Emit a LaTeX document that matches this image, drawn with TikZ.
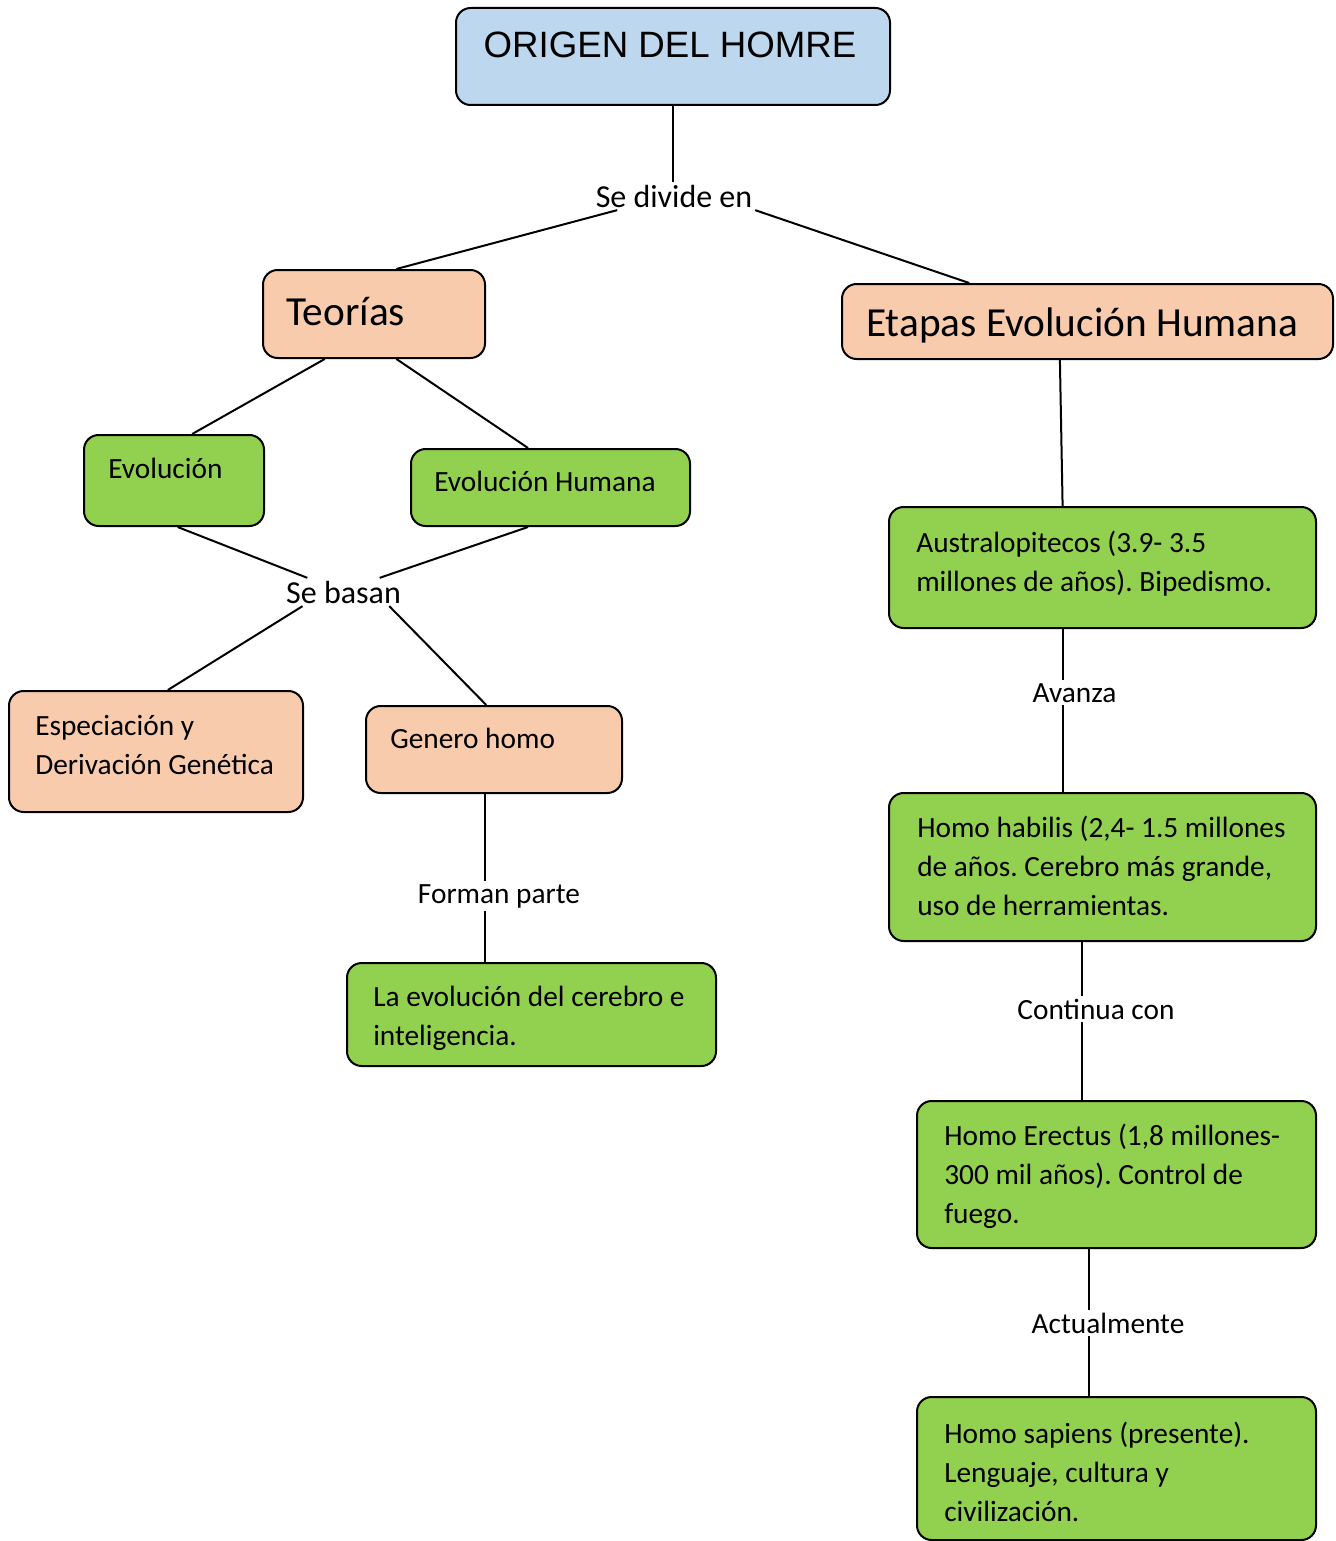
\documentclass[tikz,border=0pt]{standalone}
\usepackage{fontspec}
\setmainfont{Carlito}
\newfontfamily\arialfont{Liberation Sans}
\usetikzlibrary{fit,calc}
\frenchspacing
\definecolor{lightblue}{HTML}{BDD7EE}
\definecolor{peach}{HTML}{F8CBAD}
\definecolor{leafgreen}{HTML}{92D050}
\tikzset{
  box/.style={draw=black, line width=1.5pt, rounded corners=11pt, inner sep=0pt},
  bluebox/.style={box, fill=lightblue},
  peachbox/.style={box, fill=peach},
  greenbox/.style={box, fill=leafgreen},
  txt/.style={anchor=base west, inner sep=0pt, text width=360pt, align=flush left,
    font=\fontsize{22}{29.25}\selectfont},
  lbl/.style={anchor=base, inner sep=2pt, font=\fontsize{22}{26}\selectfont},
  conn/.style={line width=1.5pt}
}

\begin{document}
\begin{tikzpicture}[x=0.75pt, y=-0.75pt]
  \useasboundingbox (0,0) rectangle (1335,1541);

  %% title
  \node[bluebox, fit={(456,8) (890,105)}] (origen) {};
  \node[anchor=base, inner sep=0pt, font=\arialfont\fontsize{27.5}{30}\selectfont]
  (origen-t) at (670,58) {ORIGEN DEL HOMRE};

  %% level 1
  \node[peachbox, fit={(263,270) (485,358)}] (teorias) {};
  \node[txt, font=\fontsize{31}{36}\selectfont] (teorias-t) at (286,325) {Teorías};
  \node[peachbox, fit={(842,284) (1333,359)}] (etapas) {};
  \node[txt, font=\fontsize{31}{36}\selectfont] (etapas-t) at (866,336) {Etapas Evolución Humana};

  %% left branch
  \node[greenbox, fit={(84,435) (264,526)}] (evo) {};
  \node[txt] (evo-t) at (108,478) {Evolución};
  \node[greenbox, fit={(411,449) (690,526)}] (evoh) {};
  \node[txt] (evoh-t) at (434,491) {Evolución Humana};
  \node[peachbox, fit={(9,691) (303,812)}] (espec) {};
  \node[txt] (espec-t) at (35,735) {Especiación y\\Derivación Genética};
  \node[peachbox, fit={(366,706) (622,793)}] (genero) {};
  \node[txt] (genero-t) at (390,748) {Genero homo};
  \node[greenbox, fit={(347,963) (716,1066)}] (cerebro) {};
  \node[txt] (cerebro-t) at (373,1006) {La evolución del cerebro e\\inteligencia.};

  %% right branch
  \node[greenbox, fit={(889,507) (1316,628)}] (austral) {};
  \node[txt] (austral-t) at (916,552) {Australopitecos (3.9- 3.5\\millones de años). Bipedismo.};
  \node[greenbox, fit={(889,793) (1316,941)}] (habilis) {};
  \node[txt] (habilis-t) at (917,837) {Homo habilis (2,4- 1.5 millones\\de años. Cerebro más grande,\\uso de herramientas.};
  \node[greenbox, fit={(917,1101) (1316,1248)}] (erectus) {};
  \node[txt] (erectus-t) at (944,1145) {Homo Erectus (1,8 millones-\\300 mil años). Control de\\fuego.};
  \node[greenbox, fit={(917,1397) (1316,1540)}] (sapiens) {};
  \node[txt] (sapiens-t) at (944,1443) {Homo sapiens (presente).\\Lenguaje, cultura y\\civilización.};

  %% link words
  \node[lbl, font=\fontsize{24}{28}\selectfont] (divide) at (674,207) {Se divide en};
  \node[lbl, font=\fontsize{24}{28}\selectfont] (basan) at (343.5,603) {Se basan};
  \node[lbl] (forman) at (499,903) {Forman parte};
  \node[lbl] (avanza) at (1074.5,702) {Avanza};
  \node[lbl] (continua) at (1096,1019) {Continua con};
  \node[lbl] (actual) at (1108,1333) {Actualmente};

  %% origen -> teorias, etapas
  \draw[conn] (origen.south) -- (origen.south |- divide.north);
  \draw[conn] ($(divide.south west)!.15!(divide.south east)$)
  -- ($(teorias.north west)!.6!(teorias.north east)$);
  \draw[conn] (divide.south east) -- ($(etapas.north west)!.26!(etapas.north east)$);

  %% teorias -> evo, evoh
  \draw[conn] ($(teorias.south west)!.28!(teorias.south east)$)
  -- ($(evo.north west)!.6!(evo.north east)$);
  \draw[conn] ($(teorias.south west)!.6!(teorias.south east)$)
  -- ($(evoh.north west)!.42!(evoh.north east)$);

  %% evo, evoh -> se basan -> espec, genero
  \draw[conn] ($(evo.south west)!.52!(evo.south east)$)
  -- ($(basan.north west)!.2!(basan.north east)$);
  \draw[conn] ($(evoh.south west)!.42!(evoh.south east)$)
  -- ($(basan.north west)!.8!(basan.north east)$);
  \draw[conn] ($(basan.south west)!.16!(basan.south east)$)
  -- ($(espec.north west)!.54!(espec.north east)$);
  \draw[conn] ($(basan.south west)!.88!(basan.south east)$)
  -- ($(genero.north west)!.47!(genero.north east)$);

  %% genero -> cerebro
  \coordinate (g1) at ($(genero.south west)!.467!(genero.south east)$);
  \draw[conn] (g1) -- (g1 |- forman.north);
  \draw[conn] (g1 |- forman.south) -- (g1 |- cerebro.north);

  %% etapas -> austral -> habilis -> erectus -> sapiens
  \draw[conn] ($(etapas.south west)!.444!(etapas.south east)$)
  -- ($(austral.north west)!.407!(austral.north east)$);
  \coordinate (a1) at ($(austral.south west)!.407!(austral.south east)$);
  \draw[conn] (a1) -- (a1 |- avanza.north);
  \draw[conn] (a1 |- avanza.south) -- (a1 |- habilis.north);
  \coordinate (h1) at ($(habilis.south west)!.452!(habilis.south east)$);
  \draw[conn] (h1) -- (h1 |- continua.north);
  \draw[conn] (h1 |- continua.south) -- (h1 |- erectus.north);
  \coordinate (e1) at ($(erectus.south west)!.432!(erectus.south east)$);
  \draw[conn] (e1) -- (e1 |- actual.north);
  \draw[conn] (e1 |- actual.south) -- (e1 |- sapiens.north);

\end{tikzpicture}
\end{document}
